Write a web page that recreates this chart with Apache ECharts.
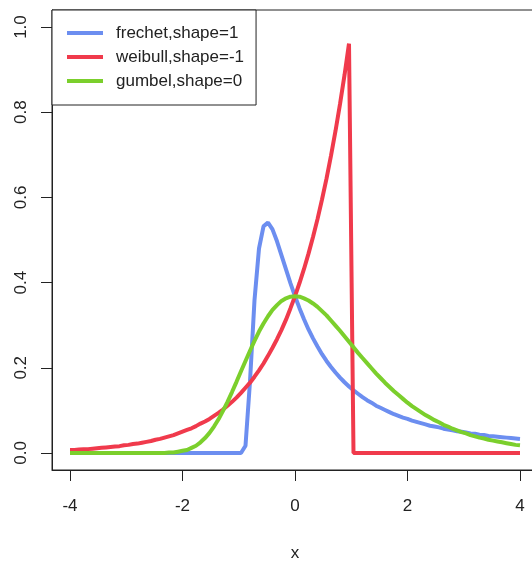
<!DOCTYPE html>
<html>
<head>
<meta charset="utf-8">
<script src="https://cdn.jsdelivr.net/npm/echarts@6/dist/echarts.min.js"></script>
<style>
  html, body { margin: 0; padding: 0; background: #fff; }
  #chart { width: 532px; height: 562px; }
</style>
</head>
<body>
<div id="chart"></div>
<script>
// grid of x values used by all three density curves
const xs = [
  -4, -3.92, -3.84, -3.76, -3.68, -3.6, -3.52, -3.44, -3.36, -3.28,
  -3.2, -3.12, -3.04, -2.96, -2.88, -2.8, -2.72, -2.64, -2.56, -2.48,
  -2.4, -2.32, -2.24, -2.16, -2.08, -2, -1.92, -1.84, -1.76, -1.68,
  -1.6, -1.52, -1.44, -1.36, -1.28, -1.2, -1.12, -1.04, -0.96, -0.88,
  -0.8, -0.72, -0.64, -0.56, -0.48, -0.4, -0.32, -0.24, -0.16, -0.08,
  0, 0.08, 0.16, 0.24, 0.32, 0.4, 0.48, 0.56, 0.64, 0.72,
  0.8, 0.88, 0.96, 1.04, 1.12, 1.2, 1.28, 1.36, 1.44, 1.52,
  1.6, 1.68, 1.76, 1.84, 1.92, 2, 2.08, 2.16, 2.24, 2.32,
  2.4, 2.48, 2.56, 2.64, 2.72, 2.8, 2.88, 2.96, 3.04, 3.12,
  3.2, 3.28, 3.36, 3.44, 3.52, 3.6, 3.68, 3.76, 3.84, 3.92, 4
];

const frechet = [
  0, 0, 0, 0, 0, 0, 0, 0, 0, 0,
  0, 0, 0, 0, 0, 0, 0, 0, 0, 0,
  0, 0, 0, 0, 0, 0, 0, 0, 0, 0,
  0, 0, 0, 0, 0, 0, 0, 0, 0, 0.017,
  0.168, 0.359, 0.480, 0.532, 0.541, 0.525, 0.497, 0.464, 0.431, 0.398,
  0.368, 0.340, 0.314, 0.290, 0.269, 0.250, 0.232, 0.216, 0.202, 0.189,
  0.177, 0.166, 0.156, 0.147, 0.139, 0.131, 0.124, 0.118, 0.111, 0.106,
  0.101, 0.096, 0.091, 0.087, 0.083, 0.080, 0.076, 0.073, 0.070, 0.067,
  0.064, 0.062, 0.060, 0.057, 0.055, 0.053, 0.051, 0.050, 0.048, 0.046,
  0.045, 0.043, 0.042, 0.040, 0.039, 0.038, 0.037, 0.036, 0.035, 0.034, 0.033
];

const weibull = [
  0.007, 0.007, 0.008, 0.009, 0.009, 0.010, 0.011, 0.012, 0.013, 0.014,
  0.015, 0.016, 0.018, 0.019, 0.021, 0.022, 0.024, 0.026, 0.028, 0.031,
  0.033, 0.036, 0.039, 0.042, 0.046, 0.050, 0.054, 0.058, 0.063, 0.069,
  0.074, 0.080, 0.087, 0.094, 0.102, 0.111, 0.120, 0.130, 0.141, 0.153,
  0.165, 0.179, 0.194, 0.210, 0.228, 0.247, 0.267, 0.289, 0.313, 0.340,
  0.368, 0.399, 0.432, 0.468, 0.507, 0.549, 0.595, 0.644, 0.698, 0.756,
  0.819, 0.887, 0.961, 0, 0, 0, 0, 0, 0, 0,
  0, 0, 0, 0, 0, 0, 0, 0, 0, 0,
  0, 0, 0, 0, 0, 0, 0, 0, 0, 0,
  0, 0, 0, 0, 0, 0, 0, 0, 0, 0, 0
];

const gumbel = [
  0, 0, 0, 0, 0, 0, 0, 0, 0, 0,
  0, 0, 0, 0, 0, 0, 0, 0, 0, 0,
  0, 0, 0.001, 0.001, 0.003, 0.005, 0.007, 0.012, 0.017, 0.025,
  0.035, 0.047, 0.062, 0.079, 0.099, 0.120, 0.143, 0.167, 0.192, 0.216,
  0.240, 0.263, 0.285, 0.304, 0.321, 0.336, 0.347, 0.357, 0.363, 0.367,
  0.368, 0.367, 0.363, 0.358, 0.351, 0.343, 0.333, 0.323, 0.311, 0.299,
  0.287, 0.274, 0.261, 0.248, 0.235, 0.223, 0.211, 0.199, 0.187, 0.176,
  0.165, 0.155, 0.145, 0.136, 0.127, 0.118, 0.110, 0.103, 0.096, 0.089,
  0.083, 0.077, 0.072, 0.066, 0.062, 0.057, 0.053, 0.049, 0.046, 0.042,
  0.039, 0.036, 0.034, 0.031, 0.029, 0.027, 0.025, 0.023, 0.021, 0.019, 0.018
];

const xTicks = [-4, -2, 0, 2, 4];
const yTicks = [0, 0.2, 0.4, 0.6, 0.8, 1.0];
const seriesNames = ['frechet,shape=1', 'weibull,shape=-1', 'gumbel,shape=0'];

const font = 'Liberation Sans, Arial, sans-serif';
const ink = '#222';

const chart = echarts.init(document.getElementById('chart'));

function curve(name, values, color) {
  return {
    name: name,
    type: 'line',
    data: xs.map((x, i) => [x, values[i]]),
    symbol: 'none',
    lineStyle: { color: color, width: 4 },
    itemStyle: { color: color },
    z: 3,
  };
}

chart.setOption({
  animation: false,
  backgroundColor: '#fff',
  grid: {
    left: 52, top: 10, width: 486, height: 460,
    outerBoundsMode: 'none',
    containLabel: false,
    show: true, borderColor: ink, borderWidth: 1, backgroundColor: 'transparent',
  },
  legend: {
    data: seriesNames,
    orient: 'vertical',
    left: 52, top: 10,
    icon: 'rect',
    padding: [14, 12, 15, 15],
    itemWidth: 36, itemHeight: 4, itemGap: 6,
    borderColor: ink, borderWidth: 1, borderRadius: 0,
    backgroundColor: '#fff',
    textStyle: { fontFamily: font, fontSize: 17, color: ink, lineHeight: 18, padding: [0, 0, 0, 8] },
    z: 10,
  },
  xAxis: {
    type: 'value',
    min: -4.32, max: 4.32,
    name: 'x',
    nameLocation: 'middle',
    nameGap: 75,
    nameTextStyle: { fontFamily: font, fontSize: 17, color: ink },
    axisLine: { show: true, onZero: false, lineStyle: { color: ink, width: 1 } },
    axisTick: { show: true, length: 11, customValues: xTicks, lineStyle: { color: ink } },
    axisLabel: {
      customValues: xTicks, margin: 28,
      fontFamily: font, fontSize: 17, color: ink,
      formatter: (v) => String(v),
    },
    splitLine: { show: false },
  },
  yAxis: {
    type: 'value',
    min: -0.04, max: 1.04,
    axisLine: { show: true, onZero: false, lineStyle: { color: ink, width: 1 } },
    axisTick: { show: true, length: 11, customValues: yTicks, lineStyle: { color: ink } },
    axisLabel: {
      customValues: yTicks, margin: 22, rotate: 90,
      fontFamily: font, fontSize: 17, color: ink,
      formatter: (v) => v.toFixed(1),
    },
    splitLine: { show: false },
  },
  series: [
    curve(seriesNames[0], frechet, '#6c8ef0'),
    curve(seriesNames[1], weibull, '#f03a4c'),
    curve(seriesNames[2], gumbel, '#7bcf2c'),
  ],
});
</script>
</body>
</html>
